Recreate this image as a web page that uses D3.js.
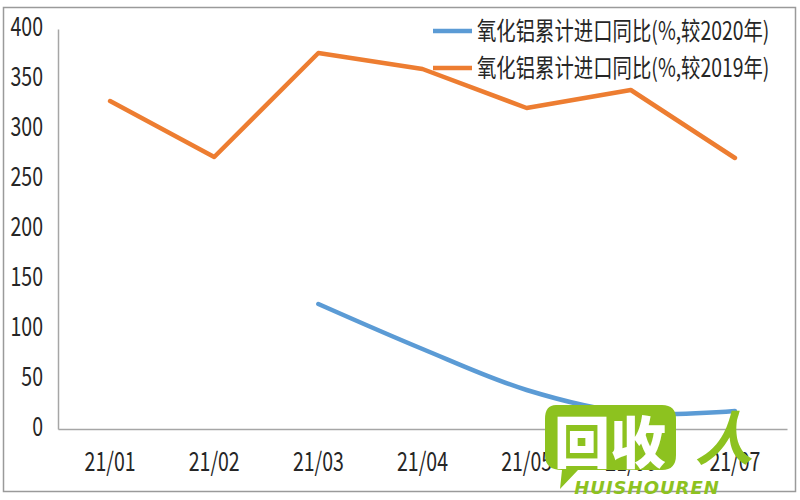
<!DOCTYPE html>
<html><head><meta charset="utf-8">
<script src="https://cdn.jsdelivr.net/npm/d3@7"></script>
<style>body{margin:0;background:#fff}svg{display:block}</style>
</head><body>
<svg id="c" width="800" height="500"></svg>
<script>
const categories = ["21/01","21/02","21/03","21/04","21/05","21/06","21/07"];
const series2020 = [null, null, 125, 80, 39, 16, 18];
const series2019 = [328, 272, 376, 360, 321, 339, 271];
const seriesNames = ["氧化铝累计进口同比(%,较2020年)", "氧化铝累计进口同比(%,较2019年)"];
const yTicks = [0,50,100,150,200,250,300,350,400];

(function(){
const FONT = "'Noto Sans CJK SC','Noto Sans',sans-serif";
const SX = 0.75;
const svg = d3.select("#c");

// outer border
svg.append("rect").attr("x",3.5).attr("y",7.5).attr("width",792).attr("height",484)
  .attr("fill","#fff").attr("stroke","#9a9a9a").attr("stroke-width",1.5);

const pL = 58, pR = 787, pT = 29, pB = 429;
const x = d3.scaleBand().domain(categories).range([pL, pR]);
const y = d3.scaleLinear().domain([0,400]).range([pB, pT]);

// Y axis
const gy = svg.append("g").attr("transform",`translate(${pL},0)`)
  .call(d3.axisLeft(y).tickValues(yTicks).tickSize(0).tickPadding(0));
gy.select(".domain").attr("stroke","#a6a6a6").attr("stroke-width",1.5);
gy.selectAll("text").attr("x",0).attr("dy",null)
  .attr("font-family",FONT).attr("font-size",26).attr("fill","#262626")
  .attr("text-anchor","end").attr("dominant-baseline","central")
  .attr("transform",`translate(-15,-4.5) scale(${SX},1)`);

// X axis
const gx = svg.append("g").attr("transform",`translate(0,${pB})`)
  .call(d3.axisBottom(x).tickSize(0).tickPadding(0));
gx.select(".domain").attr("stroke","#a6a6a6").attr("stroke-width",1.5);
gx.selectAll(".tick text").attr("y",0).attr("dy",null)
  .attr("font-family",FONT).attr("font-size",26).attr("fill","#262626")
  .attr("text-anchor","middle").attr("dominant-baseline","central")
  .attr("transform",`translate(0,31) scale(${SX},1)`);

const cx = c => x(c) + x.bandwidth()/2;

// lines
const data2019 = categories.map((c,i)=>({c, v: series2019[i]}));
const data2020 = categories.map((c,i)=>({c, v: series2020[i]})).filter(d=>d.v!=null);

svg.append("path").datum(data2020)
  .attr("d", d3.line().x(d=>cx(d.c)).y(d=>y(d.v)).curve(d3.curveCatmullRom.alpha(0.5)))
  .attr("fill","none").attr("stroke","#5B9BD5").attr("stroke-width",4.5).attr("stroke-linecap","round");

svg.append("path").datum(data2019)
  .attr("d", d3.line().x(d=>cx(d.c)).y(d=>y(d.v)))
  .attr("fill","none").attr("stroke","#ED7D31").attr("stroke-width",4.5)
  .attr("stroke-linejoin","round").attr("stroke-linecap","round");

// legend
const legColors = ["#5B9BD5","#ED7D31"];
const legY = [31, 68];
seriesNames.forEach((n,i)=>{
  svg.append("line").attr("x1",433).attr("x2",472).attr("y1",legY[i]).attr("y2",legY[i])
    .attr("stroke",legColors[i]).attr("stroke-width",4.5);
  svg.append("text").text(n).attr("font-family",FONT).attr("font-size",25).attr("fill","#262626")
    .attr("dominant-baseline","central")
    .attr("transform",`translate(477,${legY[i]-2}) scale(0.775,1)`);
});

// watermark
const wm = svg.append("g");
wm.append("path").attr("d","M556,405 H662 Q676,405 676,419 V455 Q676,470 662,470 H578 L560,489 L562,470 Q545,470 545,455 V419 Q545,405 556,405 Z")
  .attr("fill","#8DC21F");
wm.append("text").text("回收").attr("x",610).attr("y",438).attr("text-anchor","middle")
  .attr("dominant-baseline","central").attr("font-family","'Noto Sans CJK SC'").attr("font-weight",900)
  .attr("font-size",56).attr("fill","#fff");
wm.append("text").text("人").attr("x",724).attr("y",435).attr("text-anchor","middle")
  .attr("dominant-baseline","central").attr("font-family","'Noto Sans CJK SC'").attr("font-weight",700)
  .attr("font-size",58).attr("fill","#8DC21F").attr("font-style","italic");
wm.append("text").text("HUISHOUREN").attr("x",647).attr("y",494).attr("text-anchor","middle")
  .attr("font-family","'DejaVu Sans'").attr("font-weight",700).attr("font-style","italic")
  .attr("font-size",18).attr("fill","#8DC21F").attr("letter-spacing",1);
})();
</script>
</body></html>
